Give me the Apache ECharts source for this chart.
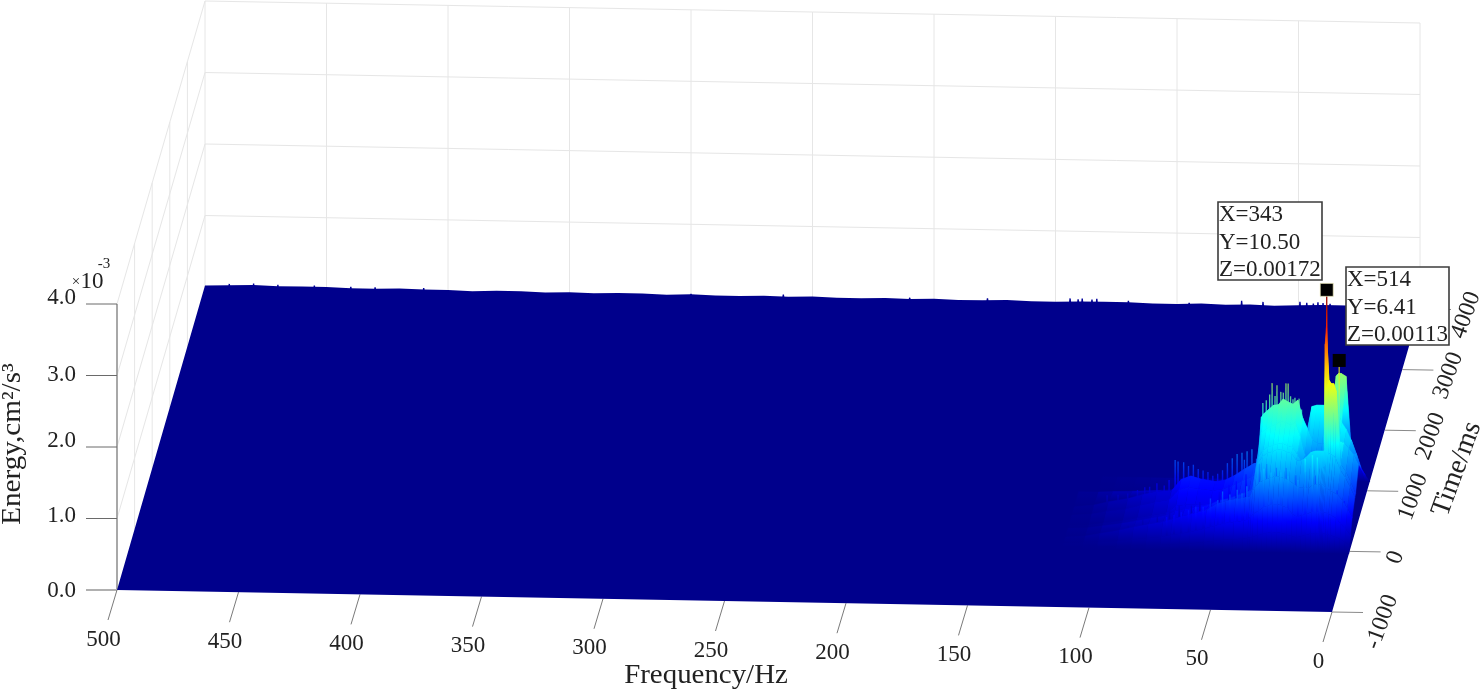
<!DOCTYPE html>
<html><head><meta charset="utf-8">
<style>html,body{margin:0;padding:0;background:#fff}#c{width:1480px;height:693px;filter:blur(0.5px)}</style>
<script src="https://cdn.jsdelivr.net/npm/echarts@6/dist/echarts.min.js"></script>
</head><body><div id="c"></div>
<script>
// ---------- data (energy in units of 1e-3 cm^2/s^3) ----------
const freqTicks = [500,450,400,350,300,250,200,150,100,50,0];
const timeTicks = [-1000,0,1000,2000,3000,4000];
const energyTicks = [0,1,2,3,4];
const energyTickLabels = ['0.0','1.0','2.0','3.0','4.0'];
const freqGrid = [0,2,4,6,8,9,10,11,11.6,12,12.5,13,14,16,18,20,22,24,26,28,30,32,34,36,38,40,41,42,44,48,52,56,60,66,70,74,78,84,90,96,104,110,118];
const timeSlices = [-40,0,50,150,300,343,514,650,900,1150];
const energyGrid = [
 [0,.08,.18,.35,.5,.52,.78,.62,.3,0],
 [0,.13,.27,.48,.65,.68,.92,.82,.4,0],
 [0,.17,.34,.58,.78,.82,1.0,1.0,.6,0],
 [0,.2,.42,.66,.88,.92,1.08,1.15,.75,0],
 [0,.22,.46,.7,1.05,1.95,1.1,1.25,1.68,0],
 [0,.23,.48,.72,1.08,2.05,1.3,1.35,1.7,0],
 [0,.24,.5,.74,1.1,2.05,1.5,1.45,1.72,0],
 [0,.24,.5,.76,1.12,2.1,1.5,1.45,1.72,0],
 [0,.24,.5,.78,1.14,2.5,1.5,1.4,1.7,0],
 [0,.24,.5,.8,1.15,2.85,1.5,1.35,1.68,0],
 [0,.24,.5,.8,1.15,2.6,1.2,1.2,1.5,0],
 [0,.24,.5,.8,1.14,1.0,.9,1.0,1.32,0],
 [0,.24,.5,.8,1.14,.95,.75,.95,1.3,0],
 [0,.24,.5,.8,1.14,.95,.72,.95,1.27,0],
 [0,.22,.47,.75,1.12,.92,.7,.95,1.27,0],
 [0,.2,.45,.75,1.05,.9,.75,1.0,1.27,0],
 [0,.18,.43,.75,1.0,.95,.9,1.15,1.25,0],
 [0,.2,.47,.8,1.0,1.05,1.15,1.3,.7,0],
 [0,.22,.55,.85,1.1,1.15,1.35,1.55,.65,0],
 [0,.24,.58,.88,1.12,1.17,1.32,1.49,.6,0],
 [0,.25,.6,.9,1.15,1.2,1.35,1.52,.6,0],
 [0,.25,.6,.9,1.15,1.2,1.37,1.56,.6,0],
 [0,.24,.58,.88,1.12,1.17,1.32,1.48,.55,0],
 [0,.22,.55,.85,1.1,1.15,1.3,1.47,.5,0],
 [0,.2,.5,.82,1.05,1.1,1.25,1.41,.45,0],
 [0,.18,.46,.75,.95,1.0,1.2,1.35,.4,0],
 [0,.17,.42,.7,.8,.85,1.0,1.3,.35,0],
 [0,.16,.38,.62,.6,.6,.62,.66,.3,0],
 [0,.15,.36,.6,.55,.52,.58,.65,.25,0],
 [0,.14,.34,.58,.5,.48,.52,.57,.2,0],
 [0,.13,.32,.55,.45,.42,.45,.48,.15,0],
 [0,.11,.28,.5,.42,.38,.4,.41,.12,0],
 [0,.09,.24,.42,.36,.34,.38,.39,.1,0],
 [0,.07,.19,.36,.32,.32,.4,.42,.08,0],
 [0,.06,.16,.32,.3,.32,.42,.46,.07,0],
 [0,.05,.14,.28,.27,.3,.38,.41,.06,0],
 [0,.04,.11,.24,.2,.2,.24,.25,.05,0],
 [0,.03,.09,.2,.16,.16,.2,.24,.04,0],
 [0,.02,.07,.16,.12,.12,.15,.19,.03,0],
 [0,.01,.04,.11,.08,.08,.1,.13,.02,0],
 [0,.01,.02,.06,.04,.04,.06,.08,.01,0],
 [0,0,.01,.02,.01,.01,.02,.03,0,0],
 [0,0,0,0,0,0,0,0,0,0]
];
const spikeFreq = [11.9,8,
  44.9,46.9,49,51,53,55,61,69,73,75.3,76.5,84,89,96,104.5,43,48,57,59,63,65,67,71,79,81,87,92,100,
  36.6,34.6,30.9,30,32,27.2,25.5,39,37.6,35.4,33,29,28,24.5,40.4,
  36,33,29,26,22,19,16,14,43,47,53,58,64,70,76,45,50,55,61,67,73,
  144,140.7,139,135,133,73.4,64.6,49.4,46.6,43.9,42,39.9,37,30,26,22,18,300,262,210,178,120,95,470,455,440,410,490,480,430];
const spikeTime = [343,514,
  650,650,650,650,650,650,650,650,650,650,650,650,650,650,650,650,650,650,650,650,650,650,650,650,650,650,650,650,
  650,650,650,650,650,650,650,650,650,650,650,650,650,650,650,
  100,100,100,100,100,100,100,100,100,100,100,100,100,100,100,100,100,100,100,100,100,
  4000,4000,4000,4000,4000,4000,4000,4000,4000,4000,4000,4000,4000,4000,4000,4000,4000,4000,4000,4000,4000,4000,4000,4000,4000,4000,4000,4000,4000,4000];
const spikeEnergy = [3.36,2.23,
  .85,.82,.8,.78,.72,.65,.47,.62,.65,.66,.68,.35,.29,.2,.17,.72,.7,.55,.5,.52,.54,.56,.6,.4,.32,.3,.25,.18,
  1.78,1.75,1.78,1.78,1.65,1.58,1.57,1.54,1.62,1.6,1.66,1.6,1.56,1.42,1.5,
  1.05,1.0,1.0,.95,.9,1.2,1.25,1.22,.8,.75,.72,.62,.5,.42,.35,.7,.68,.6,.5,.45,.38,
  .06,.05,.06,.05,.06,.07,.06,.07,.06,.05,.07,.06,.05,.04,.05,.04,.05,.03,.04,.03,.04,.04,.03,.05,.05,.04,.04,.05,.06,.04];
// darker streaks through the front of the surface
const streakFreq = [43.5,47.5,50.5,54.5,58,62.5,66,71,75,80,86,92,38,35,31,27,23,19,15,6,3];
const streakTime = [120,120,120,120,120,120,120,120,120,120,120,120,120,120,120,120,120,120,120,120,120];
const streakEnergy = [.95,.85,.8,.7,.55,.55,.5,.5,.55,.35,.3,.2,1.1,1.1,1.05,1.05,.95,1.0,.95,.75,.6];
const streakShade = [.5,.5,.5,.5,.5,.5,.5,.5,.5,.5,.5,.5,.8,.8,.8,.8,.8,.8,.8,.8,.8];
const backEdgeFreq = [0,10,20,30,40,50,60,70,80,90,100,110,120,130,140,150,160,170,180,190,200,210,220,230,240,250,260,270,280,290,300,310,320,330,340,350,360,370,380,390,400,410,420,430,440,450,460,470,480,490,500];
const backEdgeEnergy = [.01,.02,.03,.03,.03,.02,.01,.02,.01,.02,.01,.01,.02,.02,.02,.01,.01,.02,.01,.01,.02,.01,.02,.01,.01,.02,.01,.02,.01,.01,.02,.01,.02,.02,.01,.02,.01,.02,.02,.01,.02,.02,.03,.02,.02,.03,.03,.03,.04,.03,.02];
const tipFreq = [11.9,8];
const tipTime = [343,514];
const tipEnergy = [3.36,2.23];
const tipLines = [['X=343','Y=10.50','Z=0.00172'],['X=514','Y=6.41','Z=0.00113']];
const freqAxisName = 'Frequency/Hz', timeAxisName = 'Time/ms', energyAxisName = 'Energy,cm²/s³';

// ---------- view projection (orthographic) ----------
const O = {x:1332, y:612}, PF = {x:-2.43, y:-0.044}, PT = {x:0.0176, y:-0.0606}, PZ = 71.5, T0 = -1000;
const px = (f,t) => O.x + PF.x*f + PT.x*(t-T0);
const py = (f,t,z) => O.y + PF.y*f + PT.y*(t-T0) - PZ*z;
const zMax = 3.36;
const FONT = '"Liberation Serif","Times New Roman",serif';
const TXT = '#222222', GRID = '#e6e6e6';

function jet(z){
  const v = 0.012 + 0.988*Math.min(1, z/zMax);
  const c = k => Math.round(255*Math.max(0, Math.min(1, 1.5-Math.abs(4*v-k))));
  return `rgb(${c(3)},${c(2)},${c(1)})`;
}
function jetGrad(z0,z1){
  const stops = [];
  for(let i=0;i<=6;i++) stops.push({offset:i/6, color:jet(z0+(z1-z0)*i/6)});
  return {type:'linear',x:0,y:1,x2:0,y2:0,colorStops:stops,global:false};
}
const P = (api,f,t,z) => api.coord([px(f,t),py(f,t,z)]);

function layer(items, draw){
  return {type:'custom',coordinateSystem:'cartesian2d',silent:true,clip:false,animation:false,
    renderItem:(p,api)=>draw(items[p.dataIndex],api),
    data:items.map((_,i)=>[i,0])};
}
function seg(api,a,b,color,w){
  const A=P(api,a[0],a[1],a[2]),B=P(api,b[0],b[1],b[2]);
  return {type:'line',shape:{x1:A[0],y1:A[1],x2:B[0],y2:B[1]},style:{stroke:color,lineWidth:w}};
}
function label(api,pt,dx,dy,text,size,opt){
  const c=api.coord([pt[0]+dx,pt[1]+dy]);
  opt=opt||{};
  return {type:'text',x:c[0],y:c[1],rotation:(opt.rot||0)*Math.PI/180,scaleX:opt.sx||1,
    style:{text,x:0,y:0,fill:opt.fill||TXT,font:size+'px '+FONT,align:opt.align||'center',verticalAlign:'middle'}};
}

// walls
const tMin=timeTicks[0], tMax=timeTicks[timeTicks.length-1], fMax=freqTicks[0], zTop=energyTicks[energyTicks.length-1];
const wallItems=[];
freqTicks.slice(1).forEach(f=>wallItems.push([[f,tMax,0],[f,tMax,zTop]]));
wallItems.push([[fMax,tMax,0],[fMax,tMax,zTop]]);
timeTicks.slice(1,-1).forEach(t=>wallItems.push([[fMax,t,0],[fMax,t,zTop]]));
energyTicks.slice(1).forEach(z=>{
  wallItems.push([[fMax,tMax,z],[0,tMax,z]]);
  wallItems.push([[fMax,tMin,z],[fMax,tMax,z]]);
});

// surface + spikes in back-to-front order
const surf=[];
for(let j=0;j<timeSlices.length-1;j++){
  for(let i=0;i<freqGrid.length-1;i++){
    const zs=[energyGrid[i][j],energyGrid[i+1][j],energyGrid[i+1][j+1],energyGrid[i][j+1]];
    if(Math.max(...zs)===0) continue;
    surf.push({key:(timeSlices[j]+timeSlices[j+1])/2,kind:'q',
      v:[[freqGrid[i],timeSlices[j],zs[0]],[freqGrid[i+1],timeSlices[j],zs[1]],[freqGrid[i+1],timeSlices[j+1],zs[2]],[freqGrid[i],timeSlices[j+1],zs[3]]]});
  }
}
spikeFreq.forEach((f,i)=>surf.push({key:spikeTime[i],kind:'s',f,t:spikeTime[i],z:spikeEnergy[i]}));
streakFreq.forEach((f,i)=>surf.push({key:streakTime[i],kind:'d',f,t:streakTime[i],z:streakEnergy[i],shade:streakShade[i]}));
surf.sort((a,b)=>b.key-a.key);

const zBump=[1,-3,-6,-1,-6];

const option={
  animation:false,backgroundColor:'#fff',
  grid:{left:0,right:0,top:0,bottom:0},
  xAxis:{type:'value',min:0,max:1480,show:false},
  yAxis:{type:'value',min:0,max:693,inverse:true,show:false},
  series:[
    layer(wallItems,(d,api)=>seg(api,d[0],d[1],GRID,1)),
    layer([[[fMax,tMin,0],[fMax,tMin,zTop]]],(d,api)=>seg(api,d[0],d[1],'#a8a8a8',2)),
    layer(energyTicks,(z,api)=>{
      const A=P(api,fMax,tMin,z);
      return {type:'line',shape:{x1:A[0]-31,y1:A[1],x2:A[0],y2:A[1]},style:{stroke:z===0?'#b0b0b0':'#6a6a6a',lineWidth:z===0?2:1}};
    }),
    layer(freqTicks,(f,api)=>{
      const A=P(api,f,tMin,0);
      return {type:'line',shape:{x1:A[0],y1:A[1],x2:A[0]-9,y2:A[1]+30},style:{stroke:'#7a7a7a',lineWidth:1}};
    }),
    layer(timeTicks,(t,api)=>{
      const A=P(api,0,t,0);
      return {type:'line',shape:{x1:A[0],y1:A[1],x2:A[0]+31,y2:A[1]+0.5},style:{stroke:'#8a8a8a',lineWidth:1}};
    }),
    layer([0],(_,api)=>{
      const pts=[P(api,fMax,tMin,0),P(api,0,tMin,0)];
      backEdgeFreq.forEach((f,i)=>pts.push(P(api,f,tMax,backEdgeEnergy[i])));
      return {type:'polygon',shape:{points:pts},style:{fill:jet(0)}};
    }),
    layer(surf,(d,api)=>{
      if(d.kind==='q'){
        const pts=d.v.map(v=>P(api,v[0],v[1],v[2]));
        const zz=d.v.map(v=>v[2]);
        const g=jetGrad(Math.min(...zz),Math.max(...zz));
        return {type:'polygon',shape:{points:pts},style:{fill:g,stroke:g,lineWidth:0.4}};
      }
      const w=0.45;
      const pts=[P(api,d.f-w,d.t,0),P(api,d.f+w,d.t,0),P(api,d.f+w*.6,d.t,d.z),P(api,d.f-w*.6,d.t,d.z)];
      if(d.kind==='d') return {type:'polygon',shape:{points:pts},style:{fill:jetGrad(0,d.z*d.shade)}};
      return {type:'polygon',shape:{points:pts},style:{fill:jetGrad(0,d.z),opacity:d.t<4000&&d.z<3?.8:1}};
    }),
    layer(freqTicks,(f,api)=>label(api,[px(f,tMin),py(f,tMin,0)],-13.5,49.5,String(f),23)),
    layer(timeTicks,(t,api)=>label(api,[px(0,t),py(0,t,0)],t<0?50:46,t<0?10:6,String(t),24,{rot:70})),
    layer(energyTicks,(z,api)=>label(api,[px(fMax,tMin),py(fMax,tMin,z)],-41,zBump[z],energyTickLabels[z],23,{align:'right'})),
    layer([['×',15,-41,22],['10',23,-25,22],['-3',15,-13,40]],(d,api)=>{
      const top=[px(fMax,tMin),py(fMax,tMin,zTop)];
      return label(api,top,d[2],-d[3],d[0],d[1]);
    }),
    layer([0],(_,api)=>label(api,[706,676],0,0,freqAxisName,27,{sx:1.07})),
    layer([0],(_,api)=>label(api,[1457,469],0,0,timeAxisName,28,{rot:70})),
    layer([0],(_,api)=>label(api,[13,444],0,0,energyAxisName,27,{rot:90,sx:1.08})),
    layer(tipFreq,(f,api)=>{
      const i=tipFreq.indexOf(f), c=P(api,f,tipTime[i],tipEnergy[i]), s=13;
      return {type:'rect',shape:{x:c[0]-s/2,y:c[1]-s/2,width:s,height:s},style:i===0?{fill:'#000',stroke:'#f5f0c0',lineWidth:0.7}:{fill:'#000'}};
    }),
    layer(tipLines,(lines,api)=>{
      const i=tipLines.indexOf(lines);
      const b=i===0?{x:1218,y:202,w:104,h:78}:{x:1346,y:267,w:103,h:78};
      const kids=[{type:'rect',shape:{x:b.x,y:b.y,width:b.w,height:b.h},style:{fill:'#fff',stroke:'#3c3c3c',lineWidth:1.6}}];
      lines.forEach((s,k)=>kids.push({type:'text',x:b.x+1,y:b.y+13+k*27.5,style:{text:s,x:0,y:0,fill:'#222',font:'23px '+FONT,align:'left',verticalAlign:'middle'}}));
      return {type:'group',children:kids};
    })
  ]
};
echarts.init(document.getElementById('c'),null,{renderer:'canvas'}).setOption(option);
</script></body></html>
